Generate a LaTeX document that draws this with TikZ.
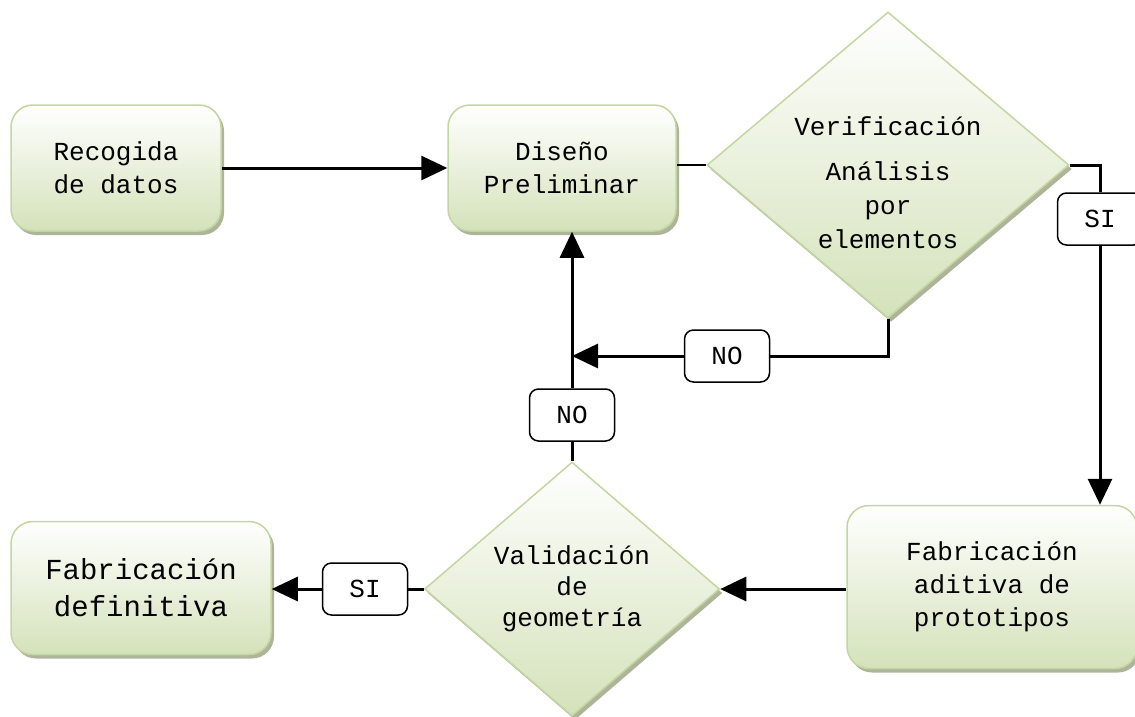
\documentclass[tikz,border=0pt]{standalone}
\usepackage{fontspec}
\setmonofont{Liberation Mono}
\usetikzlibrary{shapes.geometric,arrows.meta,shadows,positioning}

\definecolor{leafgreen}{RGB}{212,226,186}
\definecolor{leafedge}{RGB}{196,214,160}
\definecolor{leafshadow}{RGB}{165,172,145}

\tikzset{
  greenfill/.style={draw=leafedge, line width=1.5pt, top color=white, bottom color=leafgreen,
    drop shadow={shadow xshift=3pt, shadow yshift=-4pt, fill=leafshadow, opacity=0.9}},
  stepbox/.style={greenfill, rectangle, rounded corners=22pt, inner sep=0pt, align=center,
    font=\ttfamily\fontsize{26}{33}\selectfont},
  choice/.style={greenfill, diamond, inner sep=0pt, align=center,
    font=\ttfamily\fontsize{26}{31}\selectfont},
  answer/.style={draw, rectangle, rounded corners=9pt, line width=1.5pt, fill=white,
    minimum width=85pt, minimum height=52pt, inner sep=0pt,
    font=\ttfamily\fontsize{26}{30}\selectfont},
  flow/.style={line width=3pt},
  flowarrow/.style={flow, -{Triangle[length=26pt,width=24pt]}}
}

\begin{document}
\begin{tikzpicture}[x=1pt,y=-1pt]

  % Page frame
  \useasboundingbox (0,0) rectangle (1135,716);

  % Process boxes
  \node[stepbox, minimum width=210pt, minimum height=126pt] (recogida) at (116,168) {Recogida\\de datos};
  \node[stepbox, minimum width=228pt, minimum height=126pt] (diseno) at (562,168) {Diseño\\Preliminar};
  \node[stepbox, minimum width=290pt, minimum height=163pt] (aditiva) at (992,587) {Fabricación\\aditiva de\\prototipos};
  \node[stepbox, minimum width=260pt, minimum height=133pt,
        font=\ttfamily\fontsize{29}{37}\selectfont] (definitiva) at (141,588) {Fabricación\\definitiva};

  % Decisions
  \node[choice, minimum width=362pt, minimum height=306pt] (verif) at (888,165) {};
  \node[align=center, font=\ttfamily\fontsize{26}{34}\selectfont] (veriftext) at (888,183)
    {Verificación\\[11pt]Análisis\\por\\elementos};
  \node[choice, minimum width=295pt, minimum height=254pt] (valid) at (572,589) {Validación\\de\\geometría};

  % Answers
  \node[answer] (sitop) at (1100,219) {SI};
  \node[answer] (noright) at (727,356) {NO};
  \node[answer] (noleft) at (572,415) {NO};
  \node[answer] (sibottom) at (365,589) {SI};

  % Connections
  \draw[flowarrow] (recogida.east) -- (diseno.west |- recogida.east);
  \draw[line width=1.5pt] (diseno.east |- verif.west) -- (verif.west);
  \draw[flow] (verif.east) -| (sitop);
  \draw[flowarrow] (sitop) -- (sitop |- aditiva.north);
  \draw[flowarrow] (aditiva.west |- valid.east) -- (valid.east);
  \draw[flow] (valid.west) -- (sibottom);
  \draw[flowarrow] (sibottom) -- (definitiva.east |- sibottom);
  \draw[flow] (valid.north) -- (noleft);
  \draw[flowarrow] (noleft) -- (valid.north |- diseno.south);
  \draw[flow] (verif.south) |- (noright);
  \draw[flowarrow] (noright) -- (noright -| valid.north);

\end{tikzpicture}
\end{document}
